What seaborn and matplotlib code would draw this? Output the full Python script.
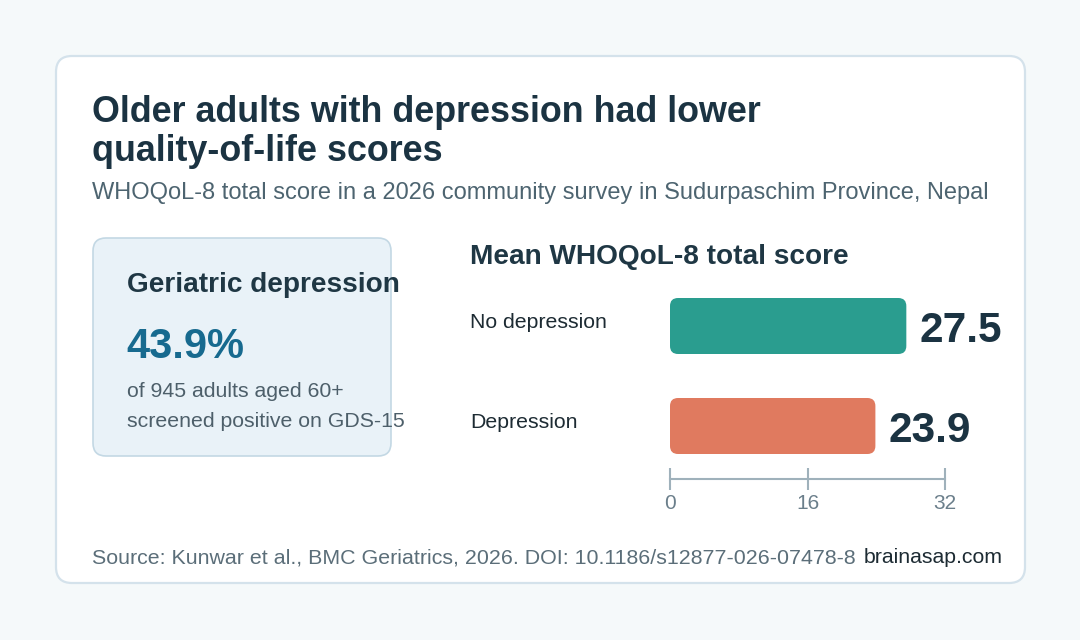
import matplotlib
matplotlib.use('Agg')
import matplotlib.pyplot as plt
import seaborn as sns
import pandas as pd
from matplotlib.patches import FancyBboxPatch

# ---- data ----
groups = ['No depression', 'Depression']
scores = [27.5, 23.9]
bar_colors = ['#2a9d8f', '#e07a5f']
x_ticks = [0, 16, 32]

title_lines = ['Older adults with depression had lower', 'quality-of-life scores']
subtitle = 'WHOQoL-8 total score in a 2026 community survey in Sudurpaschim Province, Nepal'
kpi_head = 'Geriatric depression'
kpi_value = '43.9%'
kpi_note = ['of 945 adults aged 60+', 'screened positive on GDS-15']
chart_title = 'Mean WHOQoL-8 total score'
source = 'Source: Kunwar et al., BMC Geriatrics, 2026. DOI: 10.1186/s12877-026-07478-8'
brand = 'brainasap.com'

sns.set_theme(style='white')
plt.rcParams['font.family'] = ['Liberation Sans', 'DejaVu Sans']

W, H = 1080, 640
fig = plt.figure(figsize=(W / 100, H / 100), dpi=100, facecolor='#f5f9fa')

# background axes in pixel coords for the card layout
bg = fig.add_axes([0, 0, 1, 1], zorder=0)
bg.set_xlim(0, W)
bg.set_ylim(H, 0)
bg.axis('off')

card = FancyBboxPatch((56, 56), 969, 527, boxstyle='round,pad=0,rounding_size=16',
                      facecolor='white', edgecolor='#d4e2eb', linewidth=1.6)
bg.add_patch(card)
kbox = FancyBboxPatch((93, 238), 298, 218, boxstyle='round,pad=0,rounding_size=13',
                      facecolor='#e9f2f8', edgecolor='#c3d8e4', linewidth=1.2)
bg.add_patch(kbox)

dark = '#1b3342'
bg.text(92, 122, title_lines[0], fontsize=25.8, fontweight='bold', color=dark, va='baseline')
bg.text(92, 161, title_lines[1], fontsize=25.8, fontweight='bold', color=dark, va='baseline')
bg.text(92, 199, subtitle, fontsize=17, color='#4d6470', va='baseline')

bg.text(127, 292, kpi_head, fontsize=20.2, fontweight='bold', color='#1f3744', va='baseline')
bg.text(126, 358, kpi_value, fontsize=30, fontweight='bold', color='#176a8f', va='baseline')
bg.text(127, 397, kpi_note[0], fontsize=15.3, color='#4d5f6a', va='baseline')
bg.text(127, 427, kpi_note[1], fontsize=15.3, color='#4d5f6a', va='baseline')

bg.text(470, 264, chart_title, fontsize=20.2, fontweight='bold', color='#1f3744', va='baseline')

bg.text(92, 563, source, fontsize=15.4, color='#5b6e79', va='baseline')
bg.text(1003, 563, brand, fontsize=15.3, color='#1d2b33', va='baseline', ha='right')

# ---- bar chart ----
ax = fig.add_axes([670 / W, 161 / H, 275 / W, 181 / H], zorder=2)
ax.patch.set_alpha(0)
df = pd.DataFrame({'group': groups, 'score': scores})
sns.barplot(data=df, x='score', y='group', hue='group', palette=bar_colors,
            orient='h', width=0.56, saturation=1, legend=False, ax=ax)

# swap plain bars for rounded ones with the same geometry
px_x = 275 / 32.0
px_y = 100.0
r = 8 / px_x
for p in list(ax.patches):
    x0, y0 = p.get_x(), p.get_y()
    w, h = p.get_width(), p.get_height()
    fc = p.get_facecolor()
    p.remove()
    ax.add_patch(FancyBboxPatch((x0, y0), w, h,
                                boxstyle=f'round,pad=0,rounding_size={r}',
                                mutation_aspect=px_x / px_y,
                                facecolor=fc, edgecolor='none'))

ax.set_xlim(0, 32)
ax.set_ylim(1.53, -0.28)
ax.set_xticks(x_ticks)
ax.set_xlabel('')
ax.set_ylabel('')
ax.set_yticks([])
for s in ['top', 'right', 'left']:
    ax.spines[s].set_visible(False)
ax.spines['bottom'].set_color('#9fb1bb')
ax.spines['bottom'].set_linewidth(1.5)
ax.tick_params(axis='x', bottom=True, direction='inout', length=16, width=1.5,
               color='#9fb1bb', labelsize=15, labelcolor='#6b7f8b', pad=3)

for i, (g, v) in enumerate(zip(groups, scores)):
    ax.text((470 - 670) / 275, i - 0.03, g, transform=ax.get_yaxis_transform(),
            fontsize=15.3, color='#1d2b33', va='center', ha='left')
    ax.text(v + 13 / px_x, i, f'{v:.1f}', fontsize=30.5, fontweight='bold',
            color=dark, va='center_baseline', ha='left', clip_on=False)

fig.savefig('out.png', dpi=100, facecolor=fig.get_facecolor())
